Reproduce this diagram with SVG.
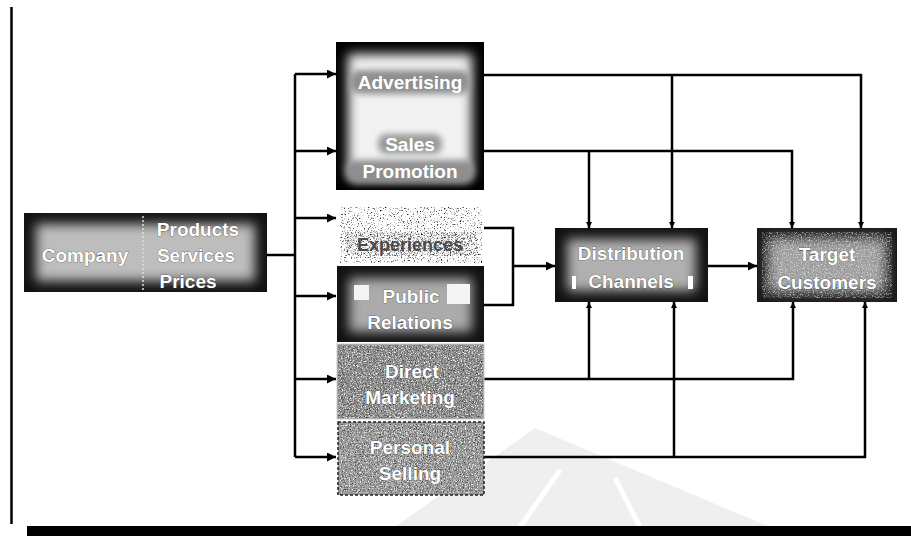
<svg xmlns="http://www.w3.org/2000/svg" width="911" height="536" viewBox="0 0 911 536">
<style>
.t{font-family:"Liberation Sans",Arial,sans-serif;font-weight:bold;font-size:19px;text-anchor:middle;fill:#fff}
.ts{stroke:#3a3a3a;stroke-width:0.6;paint-order:stroke}
.c{fill:none;stroke:#000;stroke-width:2.5}
</style>
<defs>
<filter id="blur" x="-20%" y="-20%" width="140%" height="140%"><feGaussianBlur stdDeviation="6"/></filter>
<filter id="blur3" x="-20%" y="-40%" width="140%" height="180%"><feGaussianBlur stdDeviation="3"/></filter>
<filter id="noise" x="0" y="0" width="100%" height="100%">
<feTurbulence type="fractalNoise" baseFrequency="0.85" numOctaves="2" seed="4" result="n"/>
<feColorMatrix in="n" type="matrix" values="0 0 0 0 0  0 0 0 0 0  0 0 0 0 0  3.2 0 0 0 -1.55" result="a"/>
<feComposite in="a" in2="SourceGraphic" operator="in"/>
</filter>
<filter id="noiseL" x="0" y="0" width="100%" height="100%">
<feTurbulence type="fractalNoise" baseFrequency="0.7" numOctaves="2" seed="7" result="n"/>
<feColorMatrix in="n" type="matrix" values="0 0 0 0 0  0 0 0 0 0  0 0 0 0 0  4 0 0 0 -2.3" result="a"/>
<feComposite in="a" in2="SourceGraphic" operator="in"/>
</filter>
<filter id="noiseW" x="0" y="0" width="100%" height="100%">
<feTurbulence type="fractalNoise" baseFrequency="0.75" numOctaves="2" seed="9" result="n"/>
<feColorMatrix in="n" type="matrix" values="0 0 0 0 1  0 0 0 0 1  0 0 0 0 1  0 3.2 0 0 -1.5" result="a"/>
<feComposite in="a" in2="SourceGraphic" operator="in"/>
</filter>
<marker id="ah" viewBox="0 0 10 10" refX="10" refY="5" markerWidth="11" markerHeight="9" markerUnits="userSpaceOnUse" orient="auto">
<path d="M0,0 L10,5 L0,10 z" fill="#000"/>
</marker>
<marker id="as" viewBox="0 0 10 10" refX="10" refY="5" markerWidth="6" markerHeight="6" markerUnits="userSpaceOnUse" orient="auto">
<path d="M0,0 L10,5 L0,10 z" fill="#000"/>
</marker>
</defs>
<rect width="911" height="536" fill="#fff"/>
<g id="watermark">
<polygon points="395,527 535,428 770,527" fill="#efefef"/>
<line x1="520" y1="527" x2="560" y2="470" stroke="#fff" stroke-width="5"/>
<line x1="640" y1="527" x2="615" y2="478" stroke="#fff" stroke-width="5"/>
</g>
<g id="frame">
<line x1="11.5" y1="7" x2="11.5" y2="524" stroke="#000" stroke-width="2.5"/>
<rect x="27" y="526" width="884" height="10" fill="#000"/>
</g>
<g id="connectors">
<path class="c" d="M267,255 H295"/>
<path class="c" d="M295,74 V457"/>
<path class="c" d="M295,74 H336" marker-end="url(#ah)"/>
<path class="c" d="M295,151 H336" marker-end="url(#ah)"/>
<path class="c" d="M295,218 H336" marker-end="url(#ah)"/>
<path class="c" d="M295,296 H336" marker-end="url(#ah)"/>
<path class="c" d="M295,379 H336" marker-end="url(#ah)"/>
<path class="c" d="M295,457 H336" marker-end="url(#ah)"/>
<path class="c" d="M484,228 H513 V305 H484"/>
<path class="c" d="M513,266 H555" marker-end="url(#ah)"/>
<path class="c" d="M708,266 H757" marker-end="url(#ah)"/>
<path class="c" d="M484,75 H861 V228" marker-end="url(#as)"/>
<path class="c" d="M672,75 V228" marker-end="url(#as)"/>
<path class="c" d="M484,151 H792 V228" marker-end="url(#as)"/>
<path class="c" d="M589,151 V228" marker-end="url(#as)"/>
<path class="c" d="M484,379 H793 V302" marker-end="url(#as)"/>
<path class="c" d="M589,379 V302" marker-end="url(#as)"/>
<path class="c" d="M484,457 H865 V302" marker-end="url(#as)"/>
<path class="c" d="M674,457 V302" marker-end="url(#as)"/>
</g>
<g id="company">
<rect x="24" y="213" width="243" height="79" fill="#111"/>
<rect x="36" y="224" width="219" height="57" fill="#bdbdbd" filter="url(#blur)"/>
<line x1="143" y1="216" x2="143" y2="290" stroke="#ddd" stroke-width="1.5" stroke-dasharray="2,2"/>
<text class="t ts" x="85" y="262">Company</text>
<text class="t ts" x="198" y="236">Products</text>
<text class="t ts" x="196" y="262">Services</text>
<text class="t ts" x="188" y="288">Prices</text>
</g>
<g id="advertising-sales">
<rect x="336" y="42" width="148" height="148" fill="#000"/>
<rect x="348" y="54" width="124" height="124" fill="#f2f2f2" filter="url(#blur)"/>
<rect x="350" y="70" width="120" height="24" rx="10" fill="#8e8e8e" filter="url(#blur3)"/>
<rect x="378" y="134" width="64" height="20" rx="8" fill="#9a9a9a" filter="url(#blur3)"/>
<rect x="346" y="160" width="128" height="24" rx="10" fill="#8e8e8e" filter="url(#blur3)"/>
<text class="t" x="410" y="89">Advertising</text>
<text class="t" x="410" y="151">Sales</text>
<text class="t" x="410" y="178">Promotion</text>
</g>
<g id="experiences">
<rect x="337" y="205" width="147" height="60" fill="#fff"/>
<rect x="340" y="207" width="142" height="56" fill="#666" filter="url(#noiseL)"/>
<rect x="345" y="232" width="132" height="24" fill="#888" filter="url(#noise)" opacity="0.7"/>
<text class="t" x="410" y="251" style="fill:#4a4a4a;font-size:18px">Experiences</text>
</g>
<g id="public-relations">
<rect x="337" y="266" width="147" height="76" fill="#111"/>
<rect x="349" y="278" width="123" height="54" fill="#ababab" filter="url(#blur)"/>
<rect x="354" y="285" width="15" height="15" fill="#f4f4f4"/>
<rect x="447" y="284" width="23" height="20" fill="#f4f4f4"/>
<text class="t ts" x="411" y="303">Public</text>
<text class="t ts" x="410" y="329">Relations</text>
</g>
<g id="direct-marketing">
<rect x="337" y="344" width="147" height="75" fill="#8c8c8c" stroke="#ccc" stroke-width="1"/>
<rect x="338" y="345" width="145" height="73" fill="#fff" filter="url(#noiseW)"/>
<rect x="338" y="345" width="145" height="73" fill="#333" filter="url(#noise)" opacity="0.6"/>
<text class="t ts" x="412" y="378">Direct</text>
<text class="t ts" x="410" y="404">Marketing</text>
</g>
<g id="personal-selling">
<rect x="338" y="422" width="146" height="73" fill="#9a9a9a" stroke="#222" stroke-width="1.5" stroke-dasharray="3,2"/>
<rect x="340" y="424" width="142" height="69" fill="#fff" filter="url(#noiseW)"/>
<rect x="340" y="424" width="142" height="69" fill="#333" filter="url(#noise)" opacity="0.6"/>
<text class="t ts" x="410" y="454">Personal</text>
<text class="t ts" x="410" y="480">Selling</text>
</g>
<g id="distribution-channels">
<rect x="555" y="228" width="153" height="74" fill="#111"/>
<rect x="567" y="239" width="129" height="52" fill="#b0b0b0" filter="url(#blur)"/>
<rect x="572" y="276" width="4" height="13" fill="#fff"/>
<rect x="688" y="276" width="5" height="13" fill="#fff"/>
<text class="t ts" x="631" y="260">Distribution</text>
<text class="t ts" x="631" y="288">Channels</text>
</g>
<g id="target-customers">
<rect x="757" y="228" width="140" height="74" fill="#1a1a1a"/>
<rect x="768" y="238" width="118" height="54" fill="#9c9c9c" filter="url(#blur)"/>
<rect x="762" y="232" width="130" height="66" fill="#fff" filter="url(#noiseW)" opacity="0.6"/>
<text class="t ts" x="827" y="261">Target</text>
<text class="t ts" x="827" y="289">Customers</text>
</g>
</svg>
